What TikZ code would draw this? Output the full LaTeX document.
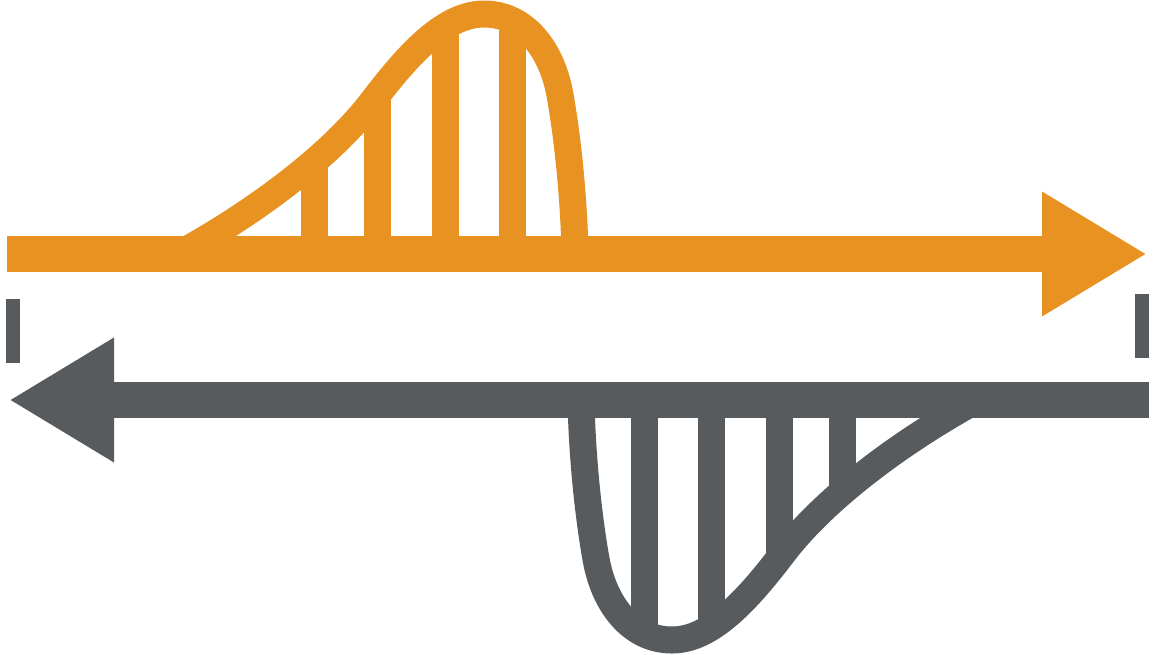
\documentclass[tikz,border=0pt]{standalone}
\usetikzlibrary{arrows.meta}
\definecolor{flowOrange}{RGB}{232,146,34}
\definecolor{flowGray}{RGB}{88,91,94}
\begin{document}
\begin{tikzpicture}[x=1pt, y=-1pt,
    shaft/.style={line width=36pt, -{Triangle[length=105pt, width=117pt]}},
    pulse/.style={line width=27pt, line join=round},
    stem/.style={line width=27pt},
    tickmark/.style={fill=flowGray}
]
\useasboundingbox (0,0) rectangle (1157,654);
% Outgoing (orange) and returning (gray) pulse, point-symmetric
\foreach \ang/\col in {0/flowOrange, 180/flowGray} {
  \begin{scope}[rotate around={\ang:(578,327)}]
    \draw[shaft, color=\col] (7,254) -- (1147,254);
    % Sample stems under the pulse
    \begin{scope}
      \clip (179,254) .. controls (259,210) and (332,154) .. (372,102)
        .. controls (407,56) and (444,14) .. (484,14)
        .. controls (525,14) and (552,50) .. (560,95)
        .. controls (568,140) and (574,200) .. (575,254) -- cycle;
      \foreach \x in {314,377,445,512}
        \draw[stem, color=\col] (\x,254) -- (\x,0);
    \end{scope}
    \draw[pulse, color=\col] (179,254) .. controls (259,210) and (332,154) .. (372,102)
      .. controls (407,56) and (444,14) .. (484,14)
      .. controls (525,14) and (552,50) .. (560,95)
      .. controls (568,140) and (574,200) .. (575,254);
  \end{scope}
}
% End marks
\fill[tickmark] (6,299) rectangle (20,363);
\fill[tickmark] (1135,294) rectangle (1149,358);
\end{tikzpicture}
\end{document}
